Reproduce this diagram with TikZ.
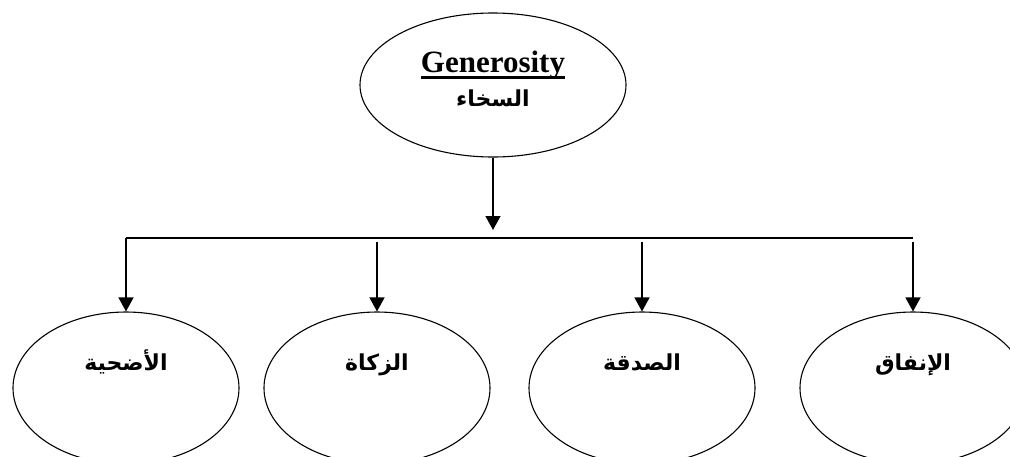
\documentclass[tikz,border=0pt]{standalone}
\usepackage{fontspec}
\setmainfont{Liberation Serif}
\newfontfamily\arabicfont[Script=Arabic]{DejaVu Sans}
\TeXXeTstate=1
\usetikzlibrary{shapes.geometric,arrows.meta,positioning}
\newcommand{\thickul}[1]{\vtop{\hbox{\raisebox{0pt}[\height][0pt]{#1}}\kern4pt\hrule height 2.6pt}}

\begin{document}
\begin{tikzpicture}[x=1pt,y=-1pt]
	\tikzstyle{every node}+=[inner sep=0pt]
	\tikzstyle{oval}=[draw, ellipse, line width=1.1pt, minimum width=226pt, minimum height=152pt]
	\tikzstyle{arr}=[line width=1.3pt, -{Triangle[length=14pt,width=15pt]}]
	\tikzstyle{word}=[font=\arabicfont\bfseries\fontsize{22}{26}\selectfont, text height=17pt, text depth=5pt]
	\useasboundingbox (0,0) rectangle (1010,456);
	\clip (0,0) rectangle (1010,456);
	% root
	\node [oval, minimum width=266pt, minimum height=144pt,
		label={[text height=22pt, text depth=7pt, yshift=20.5pt, font=\bfseries\fontsize{31}{34}\selectfont]center:\thickul{Generosity}},
		label={[word, yshift=-15pt]center:\beginR السخاء\endR}] (gen) at (493,85) {};
	\coordinate (hub) at (493,230);
	\draw [arr] (gen) -- (hub);
	% bus
	\coordinate (b1) at (126,238);
	\coordinate (b4) at (913,238);
	\draw [line width=1.3pt] (b1) -- (b4);
	\coordinate (t2) at (377,242);
	\coordinate (t3) at (642,242);
	\coordinate (t4) at (913,242);
	% leaves
	\node [oval, label={[word, yshift=24pt]center:\beginR الأضحية\endR}] (udhiya) at (126,388) {};
	\node [oval, label={[word, yshift=24pt]center:\beginR الزكاة\endR}] (zakat) at (377,388) {};
	\node [oval, label={[word, yshift=24pt]center:\beginR الصدقة\endR}] (sadaqa) at (642,388) {};
	\node [oval, label={[word, yshift=24pt]center:\beginR الإنفاق\endR}] (infaq) at (913,388) {};
	\draw [arr] (b1) -- (udhiya);
	\draw [arr] (t2) -- (zakat);
	\draw [arr] (t3) -- (sadaqa);
	\draw [arr] (t4) -- (infaq);
\end{tikzpicture}
\end{document}
